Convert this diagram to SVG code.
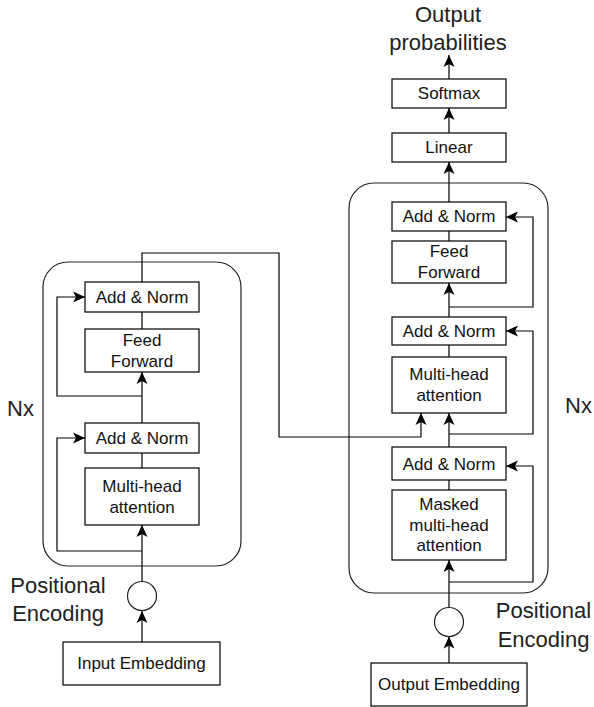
<svg xmlns="http://www.w3.org/2000/svg" width="594" height="707" viewBox="0 0 594 707">
<style>
.box{fill:#fff;stroke:#000;stroke-width:1.2}
.cont{fill:none;stroke:#222;stroke-width:1.2}
.circ{fill:#fff;stroke:#222;stroke-width:1.2}
.t{font-family:"Liberation Sans",Arial,sans-serif;font-size:17px;fill:#111;text-anchor:middle;dominant-baseline:central}
.big{font-family:"Liberation Sans",Arial,sans-serif;font-size:22px;fill:#222}
.c{fill:none;stroke:#000;stroke-width:1.2}
.a{marker-end:url(#arr)}
</style>
<defs>
<marker id="arr" markerUnits="userSpaceOnUse" markerWidth="13" markerHeight="12" refX="12" refY="5.5" orient="auto" overflow="visible">
<path d="M12,5.5 L0,0 L3,5.5 L0,11 Z" fill="#000"/>
</marker>
</defs>

<g id="encoder-container"><rect class="cont" x="43" y="262" width="198" height="304" rx="25"/></g>
<g id="decoder-container"><rect class="cont" x="349" y="183" width="199" height="410" rx="25"/></g>

<g id="connectors">
<path class="c a" d="M142,642 V611"/>
<path class="c a" d="M142,581.5 V525"/>
<path class="c" d="M142,468 V453"/>
<path class="c a" d="M142,423 V372"/>
<path class="c" d="M142,329 V312"/>
<path class="c a" d="M142,282 V253 H279 V437 H421 V413"/>
<path class="c a" d="M142,551 H57 V438 H85"/>
<path class="c a" d="M142,396 H57 V297 H85"/>
<path class="c a" d="M449,663 V636.5"/>
<path class="c a" d="M449,607.5 V560"/>
<path class="c" d="M449,490 V480"/>
<path class="c a" d="M449,447 V413"/>
<path class="c" d="M449,357 V345"/>
<path class="c a" d="M449,317 V283"/>
<path class="c" d="M449,241 V231"/>
<path class="c a" d="M449,202 V162"/>
<path class="c a" d="M449,133 V108"/>
<path class="c a" d="M449,79 V55"/>
<path class="c a" d="M449,582 H533 V466 H506"/>
<path class="c a" d="M449,434 H533 V331 H506"/>
<path class="c a" d="M449,307 H533 V217 H506"/>
</g>

<g id="enc-addnorm2"><rect class="box" x="85" y="282" width="114" height="30"/><text class="t" x="142" y="297">Add &amp; Norm</text></g>
<g id="enc-ff"><rect class="box" x="85" y="329" width="114" height="43"/><text class="t" x="142" y="340">Feed</text><text class="t" x="142" y="361">Forward</text></g>
<g id="enc-addnorm1"><rect class="box" x="85" y="423" width="114" height="30"/><text class="t" x="142" y="438">Add &amp; Norm</text></g>
<g id="enc-mha"><rect class="box" x="85" y="468" width="114" height="57"/><text class="t" x="142" y="486">Multi-head</text><text class="t" x="142" y="507">attention</text></g>
<g id="enc-pe"><circle class="circ" cx="142" cy="596" r="14.5"/></g>
<g id="input-embedding"><rect class="box" x="63" y="642" width="157" height="43"/><text class="t" x="141.5" y="663.5">Input Embedding</text></g>

<g id="dec-addnorm3"><rect class="box" x="392" y="202" width="114" height="29"/><text class="t" x="449" y="216.5">Add &amp; Norm</text></g>
<g id="dec-ff"><rect class="box" x="392" y="241" width="114" height="42"/><text class="t" x="449" y="251.5">Feed</text><text class="t" x="449" y="272">Forward</text></g>
<g id="dec-addnorm2"><rect class="box" x="392" y="317" width="114" height="28"/><text class="t" x="449" y="331">Add &amp; Norm</text></g>
<g id="dec-mha"><rect class="box" x="392" y="357" width="114" height="56"/><text class="t" x="449" y="374.5">Multi-head</text><text class="t" x="449" y="395">attention</text></g>
<g id="dec-addnorm1"><rect class="box" x="392" y="447" width="114" height="33"/><text class="t" x="449" y="464">Add &amp; Norm</text></g>
<g id="dec-masked"><rect class="box" x="392" y="490" width="114" height="70"/><text class="t" x="449" y="504.5">Masked</text><text class="t" x="449" y="525">multi-head</text><text class="t" x="449" y="545.5">attention</text></g>
<g id="dec-pe"><circle class="circ" cx="449" cy="622" r="14.5"/></g>
<g id="output-embedding"><rect class="box" x="371" y="663" width="156" height="43"/><text class="t" x="449" y="684.5">Output Embedding</text></g>
<g id="linear"><rect class="box" x="392" y="133" width="114" height="29"/><text class="t" x="449" y="147.5">Linear</text></g>
<g id="softmax"><rect class="box" x="392" y="79" width="114" height="29"/><text class="t" x="449" y="93.5">Softmax</text></g>

<g id="labels">
<text class="big" x="448" y="22" text-anchor="middle">Output</text>
<text class="big" x="448" y="50" text-anchor="middle">probabilities</text>
<text class="big" x="58" y="593" text-anchor="middle">Positional</text>
<text class="big" x="58" y="621" text-anchor="middle">Encoding</text>
<text class="big" x="543.5" y="618" text-anchor="middle">Positional</text>
<text class="big" x="543.5" y="647" text-anchor="middle">Encoding</text>
<text class="big" x="7" y="416">Nx</text>
<text class="big" x="565" y="413">Nx</text>
</g>
</svg>
